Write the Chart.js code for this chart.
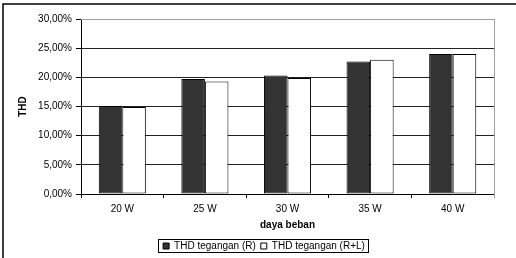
<!DOCTYPE html>
<html>
<head>
<meta charset="utf-8">
<script src="https://cdn.jsdelivr.net/npm/chart.js@4.4.0/dist/chart.umd.min.js"></script>
<style>
html, body { margin: 0; padding: 0; background: #fff; }
#wrap { width: 516px; height: 258px; }
</style>
</head>
<body>
<div id="wrap"><canvas id="myChart" width="516" height="258"></canvas></div>
<script>
const categories = ["20 W", "25 W", "30 W", "35 W", "40 W"];
const thdR = [15.1, 19.7, 20.3, 22.7, 24.0];
const thdRL = [14.9, 19.3, 19.9, 23.0, 24.0];
const seriesNames = ["THD tegangan (R)", "THD tegangan (R+L)"];
const yMin = 0, yMax = 30, yStep = 5;

const fontFam = "'Liberation Sans', Arial, sans-serif";

function pct(v) {
    return v.toFixed(2).replace(".", ",") + "%";
}

// frame, plot border, legend box
const framePlugin = {
    id: "frame",
    afterLayout(chart) {
        const lg = chart.legend;
        lg.left += 17;
        lg.right += 17;
    },
    beforeDraw(chart) {
        const c = chart.ctx;
        c.save();
        c.strokeStyle = "#000";
        c.lineWidth = 1.5;
        c.beginPath();
        c.moveTo(3, chart.height);
        c.lineTo(3, 4);
        c.lineTo(chart.width, 4);
        c.stroke();
        c.restore();
    },
    afterDraw(chart) {
        const c = chart.ctx;
        const a = chart.chartArea;
        c.save();
        c.strokeStyle = "#a0a0a0";
        c.lineWidth = 1;
        c.beginPath();
        c.moveTo(a.right + 0.5, a.top);
        c.lineTo(a.right + 0.5, a.bottom + 4);
        c.moveTo(a.left, a.top + 0.5);
        c.lineTo(a.right, a.top + 0.5);
        c.stroke();
        const hb = chart.legend.legendHitBoxes;
        if (hb && hb.length) {
            const last = hb[hb.length - 1];
            const cy = Math.round(hb[0].top + hb[0].height / 2);
            const x0 = Math.round(hb[0].left) - 4.5;
            const x1 = Math.round(last.left + last.width) + 3.5;
            c.strokeStyle = "#000";
            c.strokeRect(x0, cy - 6.5, x1 - x0, 13);
        }
        c.restore();
    }
};

let myChart = new Chart(document.getElementById("myChart"), {
    type: "bar",
    data: {
        labels: categories,
        datasets: [
            {
                label: seriesNames[0],
                data: thdR,
                backgroundColor: "#333333",
                borderColor: "#000",
                borderWidth: 1,
                borderSkipped: false
            },
            {
                label: seriesNames[1],
                data: thdRL,
                backgroundColor: "#ffffff",
                borderColor: "#000",
                borderWidth: 1,
                borderSkipped: false
            }
        ]
    },
    options: {
        responsive: false,
        animation: false,
        devicePixelRatio: 1,
        datasets: { bar: { categoryPercentage: 0.57, barPercentage: 1 } },
        layout: { padding: { left: 0, right: 22, top: 19, bottom: 0 } },
        plugins: {
            tooltip: { enabled: false },
            legend: {
                position: "bottom",
                maxHeight: 22,
                labels: {
                    boxWidth: 6,
                    boxHeight: 6,
                    padding: 5,
                    color: "#000",
                    font: { family: fontFam, size: 10 }
                }
            }
        },
        scales: {
            x: {
                offset: true,
                grid: {
                    offset: true,
                    drawOnChartArea: false,
                    tickLength: 4,
                    tickColor: "#000"
                },
                border: { color: "#000", width: 1 },
                ticks: { color: "#000", padding: 5, font: { family: fontFam, size: 10 } },
                title: {
                    display: true,
                    text: "daya beban",
                    color: "#000",
                    padding: { top: 0, bottom: 5 },
                    font: { family: fontFam, size: 10, weight: "bold" }
                },
                afterFit(scale) { scale.height = 42; }
            },
            y: {
                min: yMin,
                max: yMax,
                ticks: {
                    stepSize: yStep,
                    color: "#000",
                    padding: 4,
                    font: { family: fontFam, size: 10 },
                    callback: (v) => pct(v)
                },
                grid: { color: "#222", tickLength: 5, tickColor: "#000" },
                border: { color: "#000", width: 1 },
                title: {
                    display: true,
                    text: "THD",
                    color: "#000",
                    padding: { top: 17, bottom: 0 },
                    font: { family: fontFam, size: 10, weight: "bold" }
                },
                afterFit(scale) { scale.width = 81; }
            }
        }
    },
    plugins: [framePlugin]
});
</script>
</body>
</html>
